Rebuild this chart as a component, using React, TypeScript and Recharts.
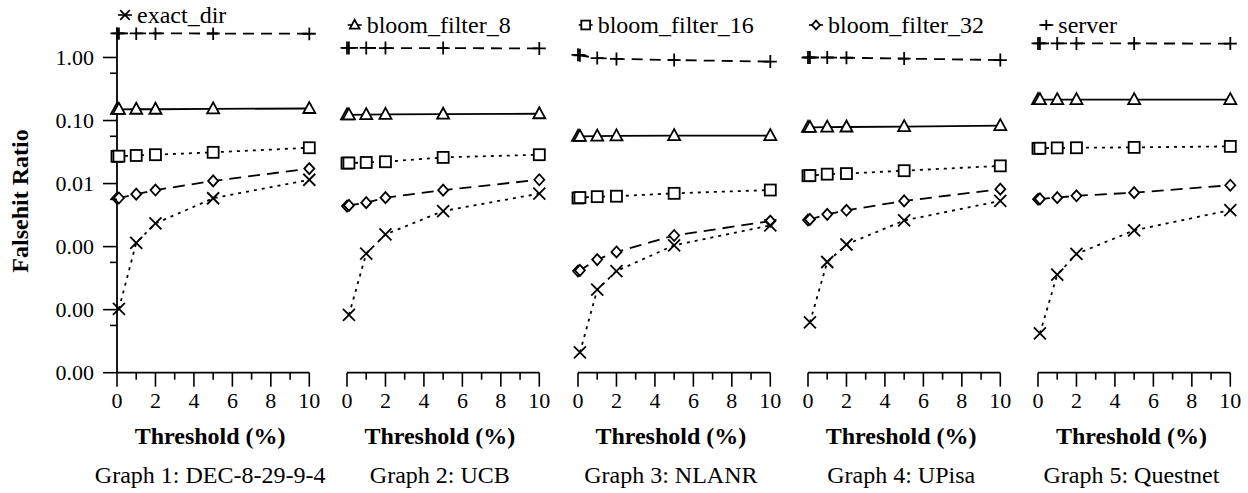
import { Line, LineChart, XAxis, YAxis } from "recharts";

// threshold values on the x axis (0.1 sits right next to 0)
const THRESHOLDS = [0, 0.1, 1, 2, 5, 10];
const X_TICKS = [0, 1, 2, 3, 4, 5, 6, 7, 8, 9, 10];
const Y_TICKS = [1e-5, 1e-4, 1e-3, 1e-2, 1e-1, 1];
const Y_TICK_LABELS = ["0.00", "0.00", "0.00", "0.01", "0.10", "1.00"];
const Y_MINOR_TICKS = [0.562e-4, 0.562e-3, 0.562e-2, 0.562e-1, 0.562];
const Y_DOMAIN: [number, number] = [1e-5, 3];

const GRAPH_TITLES = [
  "Graph 1: DEC-8-29-9-4",
  "Graph 2: UCB",
  "Graph 3: NLANR",
  "Graph 4: UPisa",
  "Graph 5: Questnet",
];

const SERIES_NAMES = ["exact_dir", "bloom_filter_8", "bloom_filter_16", "bloom_filter_32", "server"];

// one row per graph, values at THRESHOLDS
const EXACT_DIR = [
  [null, 0.000103, 0.00115, 0.00233, 0.00585, 0.0115],
  [null, 0.0000826, 0.000776, 0.00156, 0.00367, 0.00693],
  [null, 0.000021, 0.000207, 0.00041, 0.00105, 0.00217],
  [null, 0.0000631, 0.00057, 0.00108, 0.0026, 0.0053],
  [null, 0.000042, 0.000359, 0.000765, 0.00181, 0.0038],
];
const BLOOM_FILTER_8 = [
  [0.15, 0.15, 0.151, 0.151, 0.153, 0.155],
  [0.123, 0.123, 0.124, 0.125, 0.126, 0.128],
  [0.056, 0.056, 0.0565, 0.057, 0.0577, 0.0577],
  [0.078, 0.078, 0.0785, 0.079, 0.08, 0.083],
  [0.214, 0.214, 0.214, 0.214, 0.214, 0.215],
];
const BLOOM_FILTER_16 = [
  [0.027, 0.0272, 0.0279, 0.0287, 0.0313, 0.037],
  [0.0211, 0.0212, 0.0216, 0.0222, 0.026, 0.0287],
  [0.0059, 0.006, 0.0062, 0.0063, 0.007, 0.0079],
  [0.0133, 0.0134, 0.0141, 0.0144, 0.016, 0.0191],
  [0.0362, 0.0363, 0.0368, 0.037, 0.0375, 0.0389],
];
const BLOOM_FILTER_32 = [
  [0.00585, 0.0059, 0.0068, 0.0079, 0.011, 0.0173],
  [0.0044, 0.0045, 0.00498, 0.00598, 0.00785, 0.0115],
  [0.00041, 0.00042, 0.000622, 0.000822, 0.0015, 0.00254],
  [0.00264, 0.0027, 0.00325, 0.00377, 0.0053, 0.00814],
  [0.00564, 0.0057, 0.00598, 0.0064, 0.00718, 0.0094],
];
const SERVER = [
  [2.42, 2.42, 2.41, 2.41, 2.4, 2.38],
  [1.42, 1.42, 1.42, 1.41, 1.41, 1.39],
  [1.1, 1.08, 0.98, 0.95, 0.91, 0.86],
  [1.0, 1.0, 1.0, 0.99, 0.96, 0.91],
  [1.67, 1.67, 1.67, 1.67, 1.67, 1.66],
];

const SERIES_DATA: Record<string, (number | null)[][]> = {
  exact_dir: EXACT_DIR,
  bloom_filter_8: BLOOM_FILTER_8,
  bloom_filter_16: BLOOM_FILTER_16,
  bloom_filter_32: BLOOM_FILTER_32,
  server: SERVER,
};

type Shape = "cross" | "triangle" | "square" | "diamond" | "plus";

const SERIES_STYLE: Record<string, { shape: Shape; dash?: string }> = {
  exact_dir: { shape: "cross", dash: "3 5" },
  bloom_filter_8: { shape: "triangle" },
  bloom_filter_16: { shape: "square", dash: "3 5" },
  bloom_filter_32: { shape: "diamond", dash: "12 7" },
  server: { shape: "plus", dash: "11 7" },
};

// layout
const FONT = "Liberation Serif, DejaVu Serif, serif";
const PANEL_LEFT = [117, 346.7, 577.7, 808, 1038.3];
const PLOT_W = 192.3;
const PLOT_TOP = 27.4;
const PLOT_BOTTOM = 372.7;
const CHART_H = 493;
const X_AXIS_H = 30;
const Y_AXIS_W = 117;
const LEGEND_Y = [15, 25, 25, 25, 25];
const INK = "#000";

const textStyle = { fontFamily: FONT };

function Marker({ shape, cx, cy, s = 1 }: { shape: Shape; cx: number; cy: number; s?: number }) {
  const common = { stroke: INK, strokeWidth: 1.8, fill: "#fff" };
  if (shape === "triangle") {
    const pts = `${cx},${cy - 6.5 * s} ${cx - 6 * s},${cy + 4.5 * s} ${cx + 6 * s},${cy + 4.5 * s}`;
    return <polygon points={pts} {...common} strokeLinejoin="miter" />;
  }
  if (shape === "square") {
    return <rect x={cx - 5.5 * s} y={cy - 5.5 * s} width={11 * s} height={11 * s} {...common} />;
  }
  if (shape === "diamond") {
    const pts = `${cx},${cy - 5.5 * s} ${cx + 5 * s},${cy} ${cx},${cy + 5.5 * s} ${cx - 5 * s},${cy}`;
    return <polygon points={pts} {...common} />;
  }
  if (shape === "cross") {
    const d = 6 * s;
    return (
      <g stroke={INK} strokeWidth={1.8}>
        <line x1={cx - d} y1={cy - d} x2={cx + d} y2={cy + d} />
        <line x1={cx - d} y1={cy + d} x2={cx + d} y2={cy - d} />
      </g>
    );
  }
  const d = 6.5 * s;
  return (
    <g stroke={INK} strokeWidth={1.8}>
      <line x1={cx - d} y1={cy} x2={cx + d} y2={cy} />
      <line x1={cx} y1={cy - d} x2={cx} y2={cy + d} />
    </g>
  );
}

function XTick({ x, y, payload }: any) {
  const v = payload.value as number;
  const major = v % 2 === 0;
  return (
    <g>
      <line x1={x} x2={x} y1={y} y2={y + (major ? 14 : 7)} stroke={INK} strokeWidth={1.6} />
      {major && (
        <text x={x} y={y + 35.5} textAnchor="middle" fontSize={22} style={textStyle} fill={INK}>
          {v}
        </text>
      )}
    </g>
  );
}

function YTick({ x, y, payload }: any) {
  const v = payload.value as number;
  const i = Y_TICKS.indexOf(v);
  const major = i >= 0;
  return (
    <g>
      <line x1={x - (major ? 14 : 7)} x2={x} y1={y} y2={y} stroke={INK} strokeWidth={1.6} />
      {major && (
        <text x={x - 23} y={y + 7.5} textAnchor="end" fontSize={22} style={textStyle} fill={INK}>
          {Y_TICK_LABELS[i]}
        </text>
      )}
    </g>
  );
}

function Panel({ index }: { index: number }) {
  const rows = THRESHOLDS.map((x, i) => {
    const row: Record<string, number | null> = { x };
    for (const name of SERIES_NAMES) row[name] = SERIES_DATA[name][index][i];
    return row;
  });
  const first = index === 0;
  const chartLeft = first ? 0 : PANEL_LEFT[index] - 20;
  const width = first ? 330 : 240;
  const marginLeft = first ? 0 : 20;
  const plotLeft = first ? Y_AXIS_W : marginLeft;

  return (
    <div style={{ position: "absolute", left: chartLeft, top: 0 }}>
      <LineChart
        width={width}
        height={CHART_H}
        data={rows}
        margin={{
          top: PLOT_TOP,
          right: width - plotLeft - PLOT_W,
          bottom: CHART_H - PLOT_BOTTOM - X_AXIS_H,
          left: marginLeft,
        }}
      >
        <XAxis
          dataKey="x"
          type="number"
          domain={[0, 10]}
          ticks={X_TICKS}
          interval={0}
          height={X_AXIS_H}
          tickSize={0}
          tickMargin={0}
          tickLine={false}
          tick={<XTick />}
          axisLine={{ stroke: INK, strokeWidth: 1.8 }}
        />
        <YAxis
          hide={!first}
          type="number"
          scale="log"
          domain={Y_DOMAIN}
          allowDataOverflow
          ticks={[...Y_TICKS, ...Y_MINOR_TICKS]}
          interval={0}
          width={Y_AXIS_W}
          tickSize={0}
          tickMargin={0}
          tickLine={false}
          tick={<YTick />}
          axisLine={{ stroke: INK, strokeWidth: 1.8 }}
        />
        {[...SERIES_NAMES].reverse().map((name) => {
          const st = SERIES_STYLE[name];
          return (
            <Line
              key={name}
              dataKey={name}
              type="linear"
              stroke={INK}
              strokeWidth={1.8}
              strokeDasharray={st.dash}
              isAnimationActive={false}
              activeDot={false}
              dot={(p: any) =>
                p.cx == null || p.cy == null || p.value == null ? (
                  <g key={`${name}-${p.index}`} />
                ) : (
                  <g key={`${name}-${p.index}`}>
                    <Marker shape={st.shape} cx={p.cx} cy={p.cy} />
                  </g>
                )
              }
            />
          );
        })}
      </LineChart>
    </div>
  );
}

export default function App() {
  return (
    <div style={{ position: "absolute", left: 0, top: 0, width: 1248, height: CHART_H, background: "#fff", fontFamily: FONT }}>
      {GRAPH_TITLES.map((_, i) => (
        <Panel key={i} index={i} />
      ))}
      <svg width={1248} height={CHART_H} style={{ position: "absolute", left: 0, top: 0, pointerEvents: "none" }}>
        <text
          transform="translate(28,201) rotate(-90)"
          textAnchor="middle"
          fontSize={24}
          fontWeight="bold"
          style={textStyle}
          fill={INK}
        >
          Falsehit Ratio
        </text>
        {GRAPH_TITLES.map((title, i) => {
          const left = PANEL_LEFT[i];
          const mid = left + PLOT_W / 2 - 3;
          const name = SERIES_NAMES[i];
          const ly = LEGEND_Y[i];
          return (
            <g key={title}>
              <line x1={left + 1} x2={left + 15} y1={ly} y2={ly} stroke={INK} strokeWidth={1.6} />
              <Marker shape={SERIES_STYLE[name].shape} cx={left + 8} cy={ly} s={0.8} />
              <text x={left + 20} y={ly + 7.5} fontSize={24} style={textStyle} fill={INK}>
                {name}
              </text>
              <text x={mid} y={444} textAnchor="middle" fontSize={24} fontWeight="bold" style={textStyle} fill={INK}>
                Threshold (%)
              </text>
              <text x={mid} y={483} textAnchor="middle" fontSize={24} style={textStyle} fill={INK}>
                {title}
              </text>
            </g>
          );
        })}
      </svg>
    </div>
  );
}
